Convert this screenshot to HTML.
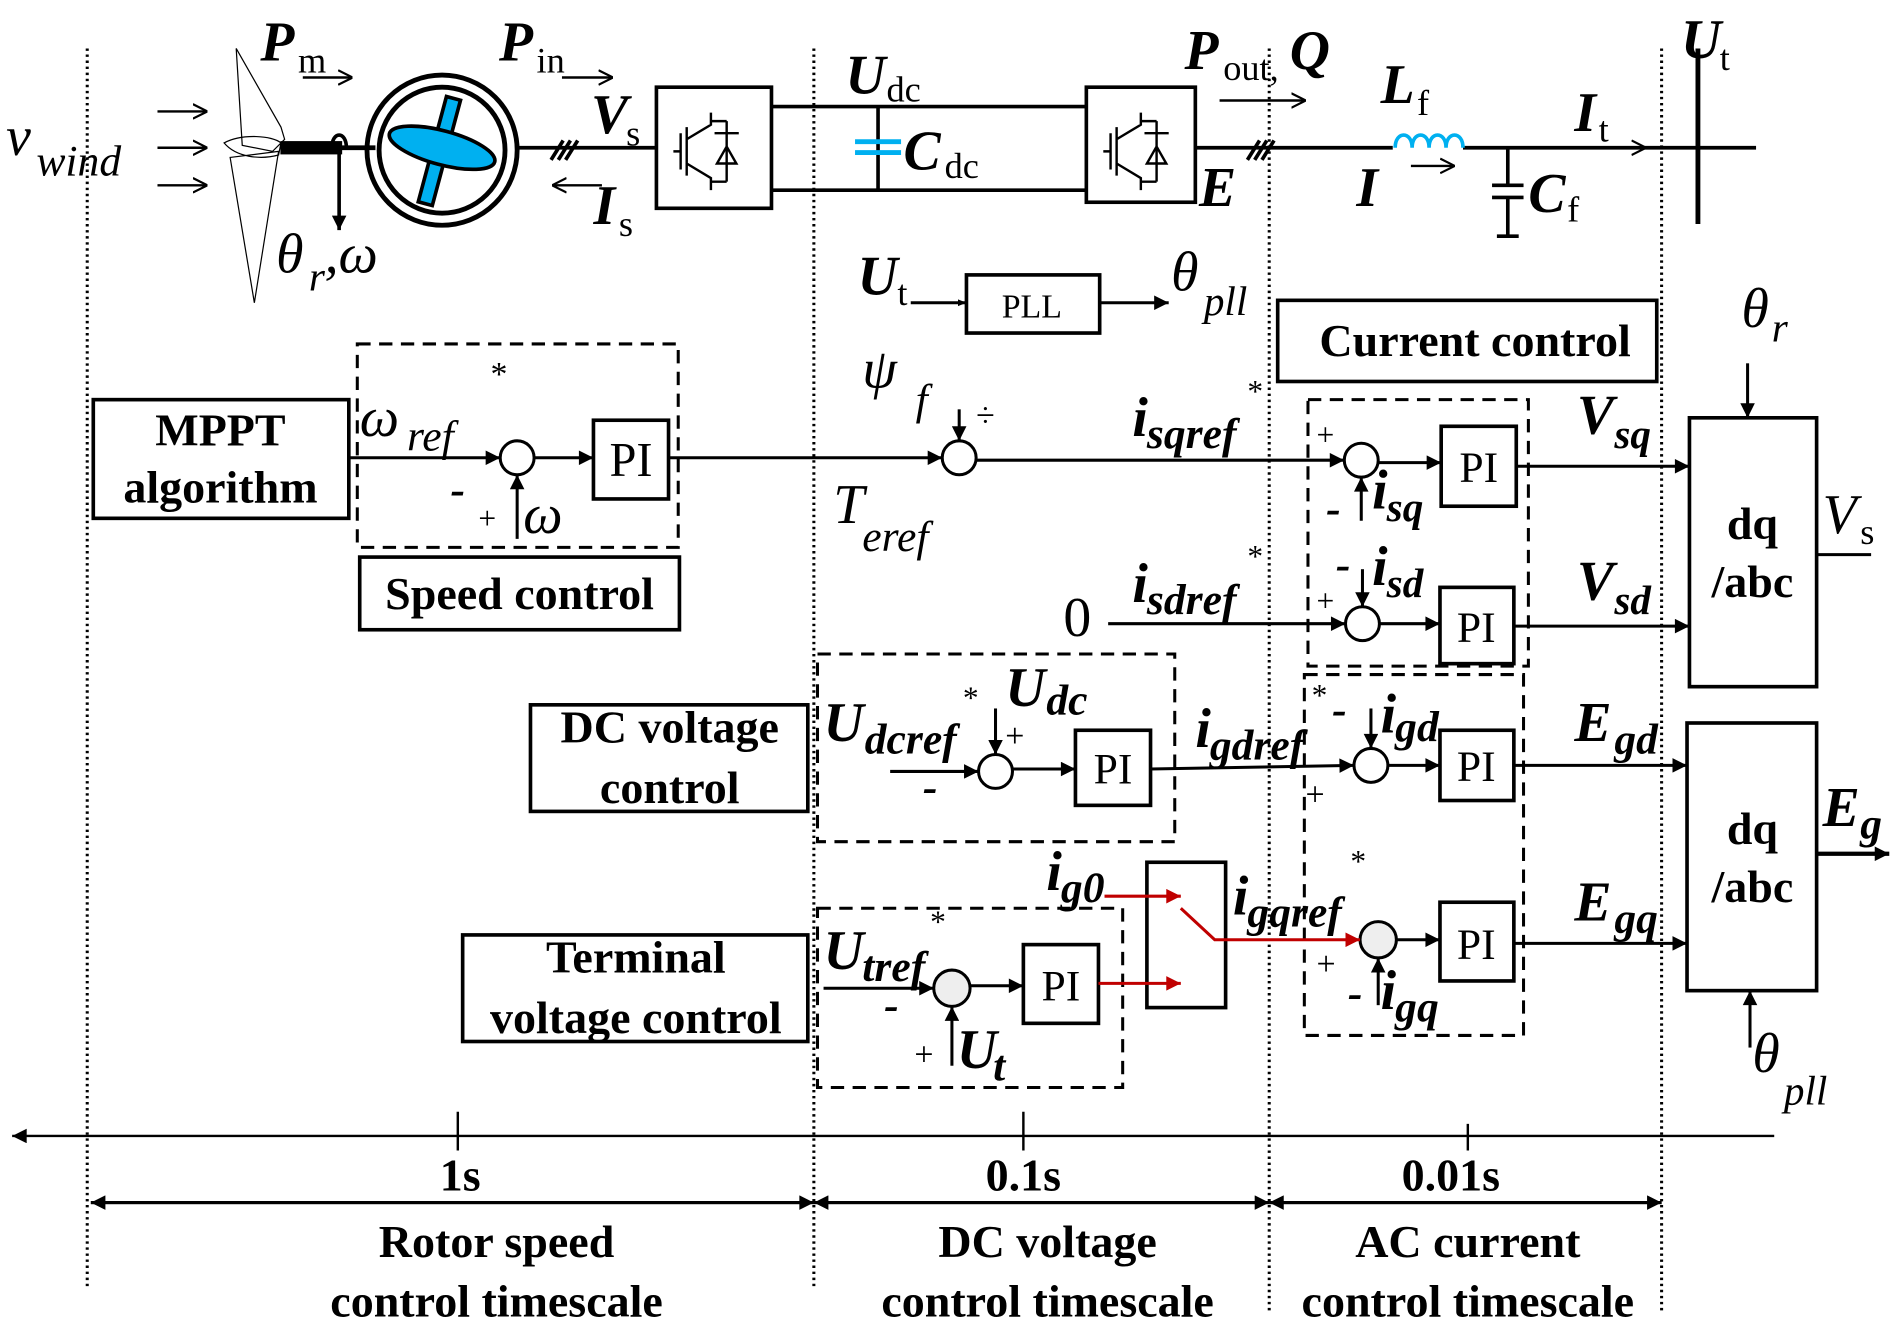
<!DOCTYPE html>
<html><head><meta charset="utf-8"><style>
html,body{margin:0;padding:0;background:#fff;}
svg{display:block;}
text{font-family:"Liberation Serif",serif;fill:#000;}
.bi{font-weight:bold;font-style:italic;}
.b{font-weight:bold;}
</style></head><body>
<svg width="1899" height="1337" viewBox="0 0 1568 1104" xmlns="http://www.w3.org/2000/svg">
<defs>
<marker id="a" viewBox="0 0 10 10" refX="10" refY="5" markerWidth="7" markerHeight="7" markerUnits="userSpaceOnUse" orient="auto"><path d="M0,1 L10,5 L0,9 z" fill="#000"/></marker>
<marker id="A" viewBox="0 0 10 10" refX="10" refY="5" markerWidth="16" markerHeight="12" markerUnits="userSpaceOnUse" orient="auto"><path d="M0,0 L10,5 L0,10 z" fill="#000"/></marker>
<marker id="r" viewBox="0 0 10 10" refX="10" refY="5" markerWidth="16" markerHeight="12" markerUnits="userSpaceOnUse" orient="auto"><path d="M0,0 L10,5 L0,10 z" fill="#c00000"/></marker>
<marker id="o" viewBox="0 0 10 10" refX="9" refY="5" markerWidth="12" markerHeight="14" markerUnits="userSpaceOnUse" orient="auto"><path d="M0,0 L10,5 L0,10" fill="none" stroke="#000" stroke-width="1.5"/></marker>
</defs>
<g stroke="#000" fill="none">
<g stroke-width="2.5" stroke-dasharray="2,3">
<line x1="72" y1="40" x2="72" y2="1065"/><line x1="672" y1="40" x2="672" y2="1065"/>
<line x1="1048" y1="40" x2="1048" y2="1085"/><line x1="1372" y1="40" x2="1372" y2="1085"/>
</g>
<g stroke-width="2"><line x1="130" y1="92" x2="170" y2="92" marker-end="url(#o)"/><line x1="130" y1="122" x2="170" y2="122" marker-end="url(#o)"/><line x1="130" y1="153" x2="170" y2="153" marker-end="url(#o)"/></g>
<path d="M195,40 L232,105 L235,115 L225,125 L200,120 Z M190,130 L230,125 L210,250 Z M185,118 C200,110 225,112 232,118 L230,128 C215,132 195,130 185,118Z" stroke-width="1"/>
<rect x="232" y="117" width="50" height="10" fill="#000"/>
<line x1="280" y1="122" x2="310" y2="122" stroke-width="4"/>
<path d="M274,122 C274,108 286,108 286,122" stroke-width="3"/>
<line x1="280" y1="122" x2="280" y2="190" stroke-width="3" marker-end="url(#A)"/>
<circle cx="365" cy="124" r="62" stroke-width="4"/><circle cx="365" cy="124" r="52" stroke-width="4"/>
<g fill="#00b0f0" stroke-width="3"><rect x="357" y="80" width="12" height="90" transform="rotate(15 364 124)"/><ellipse cx="365" cy="122" rx="45" ry="14" transform="rotate(15 365 122)"/></g>
<line x1="427" y1="122" x2="542" y2="122" stroke-width="3"/>
<g stroke-width="3"><line x1="455" y1="132" x2="465" y2="116"/><line x1="461" y1="132" x2="471" y2="116"/><line x1="467" y1="132" x2="477" y2="116"/></g>
<line x1="250" y1="64" x2="290" y2="64" stroke-width="2" marker-end="url(#o)"/>
<line x1="464" y1="64" x2="505" y2="64" stroke-width="2" marker-end="url(#o)"/>
<line x1="497" y1="153" x2="457" y2="153" stroke-width="2" marker-end="url(#o)"/>
<rect x="542" y="72" width="95" height="100" stroke-width="3"/>
<rect x="897" y="72" width="90" height="95" stroke-width="3"/>
<g stroke-width="2"><path d="M562,110 v30 M567,105 v40 M567,115 l20,-12 v-10 M567,135 l20,12 v10 M556,125 h6 M600,100 v50 M590,110 h20 M592,135 h16 l-8,-14 z M600,100 h-13 M600,150 h-13"/>
<path d="M917,110 v30 M922,105 v40 M922,115 l20,-12 v-10 M922,135 l20,12 v10 M911,125 h6 M955,100 v50 M945,110 h20 M947,135 h16 l-8,-14 z M955,100 h-13 M955,150 h-13"/></g>
<line x1="637" y1="88" x2="897" y2="88" stroke-width="3"/><line x1="637" y1="157" x2="897" y2="157" stroke-width="3"/>
<line x1="725" y1="88" x2="725" y2="157" stroke-width="3"/>
<line x1="706" y1="117" x2="744" y2="117" stroke="#00b0f0" stroke-width="4"/><line x1="706" y1="126" x2="744" y2="126" stroke="#00b0f0" stroke-width="4"/>
<line x1="987" y1="122" x2="1450" y2="122" stroke-width="3"/>
<g stroke-width="3"><line x1="1030" y1="132" x2="1040" y2="116"/><line x1="1036" y1="132" x2="1046" y2="116"/><line x1="1042" y1="132" x2="1052" y2="116"/></g>
<line x1="1007" y1="83" x2="1077" y2="83" stroke-width="2" marker-end="url(#o)"/>
<rect x="1150" y="112" width="58" height="14" fill="#fff" stroke="none"/>
<path d="M1152,122 c0,-14 14,-14 14,0 c0,-14 14,-14 14,0 c0,-14 14,-14 14,0 c0,-14 14,-14 14,0" stroke="#00b0f0" stroke-width="3"/>
<line x1="1165" y1="137" x2="1200" y2="137" stroke-width="2" marker-end="url(#o)"/>
<line x1="1300" y1="122" x2="1358" y2="122" stroke-width="2" marker-end="url(#o)"/>
<path d="M1245,122 V153 M1232,153 h26 M1232,163 h26 M1245,163 V195 M1236,195 h18" stroke-width="3"/>
<line x1="1402" y1="40" x2="1402" y2="185" stroke-width="4"/>
<rect x="798" y="227" width="110" height="48" stroke-width="3"/>
<line x1="752" y1="250" x2="798" y2="250" stroke-width="2.5" marker-end="url(#a)"/>
<line x1="908" y1="250" x2="965" y2="250" stroke-width="2.5" marker-end="url(#A)"/>
<rect x="1055" y="248" width="313" height="67" stroke-width="3"/>
<rect x="77" y="330" width="211" height="98" stroke-width="3"/>
<rect x="297" y="460" width="264" height="60" stroke-width="3"/>
<rect x="438" y="582" width="229" height="88" stroke-width="3"/>
<rect x="382" y="772" width="285" height="88" stroke-width="3"/>
<g stroke-width="2.5" stroke-dasharray="11,7">
<rect x="295" y="284" width="265" height="168"/>
<rect x="675" y="540" width="295" height="155"/>
<rect x="675" y="750" width="252" height="148"/>
<rect x="1080" y="330" width="182" height="220"/>
<rect x="1077" y="557" width="181" height="298"/>
</g>
<g stroke-width="3"><rect x="490" y="347" width="62" height="65"/><rect x="888" y="603" width="62" height="62"/><rect x="845" y="780" width="62" height="65"/>
<rect x="1190" y="352" width="62" height="66"/><rect x="1189" y="485" width="61" height="63"/><rect x="1189" y="603" width="61" height="58"/><rect x="1189" y="745" width="61" height="65"/>
<rect x="1395" y="345" width="105" height="222"/><rect x="1393" y="597" width="107" height="221"/>
<rect x="947" y="712" width="65" height="120"/></g>
<g stroke-width="2.5" fill="#fff"><circle cx="427" cy="378" r="14"/><circle cx="792" cy="378" r="14"/><circle cx="1124" cy="380" r="14"/><circle cx="1125" cy="515" r="14"/><circle cx="822" cy="637" r="14"/><circle cx="1132" cy="632" r="14"/><circle cx="786" cy="816" r="15" fill="#eee"/><circle cx="1138" cy="776" r="15" fill="#eee"/></g>
<g stroke-width="2.5">
<line x1="288" y1="378" x2="413" y2="378" marker-end="url(#A)"/>
<line x1="441" y1="378" x2="490" y2="378" marker-end="url(#A)"/>
<line x1="552" y1="378" x2="778" y2="378" marker-end="url(#A)"/>
<line x1="427" y1="445" x2="427" y2="392" marker-end="url(#A)"/>
<line x1="792" y1="338" x2="792" y2="364" marker-end="url(#A)"/>
<line x1="806" y1="380" x2="1110" y2="380" marker-end="url(#A)"/>
<line x1="1138" y1="382" x2="1190" y2="382" marker-end="url(#A)"/>
<line x1="1124" y1="430" x2="1124" y2="394" marker-end="url(#A)"/>
<line x1="1252" y1="385" x2="1395" y2="385" marker-end="url(#A)"/>
<line x1="915" y1="515" x2="1111" y2="515" marker-end="url(#A)"/>
<line x1="1125" y1="470" x2="1125" y2="501" marker-end="url(#A)"/>
<line x1="1139" y1="515" x2="1189" y2="515" marker-end="url(#A)"/>
<line x1="1250" y1="517" x2="1395" y2="517" marker-end="url(#A)"/>
<line x1="1443" y1="300" x2="1443" y2="345" marker-end="url(#A)"/>
<line x1="1500" y1="458" x2="1545" y2="458"/>
<line x1="1500" y1="705" x2="1560" y2="705" stroke-width="3.5" marker-end="url(#A)"/>
<line x1="1445" y1="865" x2="1445" y2="818" marker-end="url(#A)"/>
<line x1="735" y1="637" x2="808" y2="637" marker-end="url(#A)"/>
<line x1="822" y1="585" x2="822" y2="623" marker-end="url(#A)"/>
<line x1="836" y1="635" x2="888" y2="635" marker-end="url(#A)"/>
<line x1="950" y1="635" x2="1118" y2="632" marker-end="url(#A)"/>
<line x1="1132" y1="585" x2="1132" y2="618" marker-end="url(#A)"/>
<line x1="1146" y1="632" x2="1189" y2="632" marker-end="url(#A)"/>
<line x1="1250" y1="632" x2="1393" y2="632" marker-end="url(#A)"/>
<line x1="680" y1="816" x2="771" y2="816" marker-end="url(#A)"/>
<line x1="786" y1="880" x2="786" y2="831" marker-end="url(#A)"/>
<line x1="801" y1="814" x2="845" y2="814" marker-end="url(#A)"/>
<line x1="1153" y1="776" x2="1189" y2="776" marker-end="url(#A)"/>
<line x1="1138" y1="830" x2="1138" y2="791" marker-end="url(#A)"/>
<line x1="1250" y1="779" x2="1393" y2="779" marker-end="url(#A)"/>
</g>
<g stroke="#c00000" stroke-width="2.5">
<line x1="907" y1="812" x2="975" y2="812" marker-end="url(#r)"/>
<line x1="912" y1="740" x2="975" y2="740" marker-end="url(#r)"/>
<polyline points="975,750 1003,776 1123,776" marker-end="url(#r)" fill="none"/>
</g>
<line x1="1465" y1="938" x2="10" y2="938" stroke-width="2" marker-end="url(#A)"/>
<g stroke-width="2"><line x1="378" y1="918" x2="378" y2="950"/><line x1="845" y1="918" x2="845" y2="950"/><line x1="1212" y1="928" x2="1212" y2="950"/></g>
<g stroke-width="2.5">
<line x1="672" y1="993" x2="75" y2="993" marker-end="url(#A)"/><line x1="75" y1="993" x2="672" y2="993" marker-end="url(#A)"/>
<line x1="1048" y1="993" x2="672" y2="993" marker-end="url(#A)"/><line x1="672" y1="993" x2="1048" y2="993" marker-end="url(#A)"/>
<line x1="1372" y1="993" x2="1048" y2="993" marker-end="url(#A)"/><line x1="1048" y1="993" x2="1372" y2="993" marker-end="url(#A)"/>
</g>
</g>
<g font-size="46" class="bi">
<text x="5" y="128" font-weight="normal">v</text><text x="30" y="145" font-size="36" font-weight="normal">wind</text>
<text x="215" y="50">P</text><text x="246" y="60" font-size="30" font-weight="normal" font-style="normal">m</text>
<text x="412" y="50">P</text><text x="443" y="60" font-size="30" font-weight="normal" font-style="normal">in</text>
<text x="488" y="110">V</text><text x="517" y="120" font-size="30" font-weight="normal" font-style="normal">s</text>
<text x="490" y="185">I</text><text x="511" y="195" font-size="30" font-weight="normal" font-style="normal">s</text>
<text x="228" y="225" font-weight="normal">θ</text><text x="255" y="240" font-size="34" font-weight="normal">r</text><text x="268" y="225" font-weight="normal">,ω</text>
<text x="698" y="77">U</text><text x="732" y="84" font-size="30" font-weight="normal" font-style="normal">dc</text>
<text x="746" y="140">C</text><text x="780" y="147" font-size="30" font-weight="normal" font-style="normal">dc</text>
<text x="978" y="57">P</text><text x="1010" y="66" font-size="30" font-weight="normal" font-style="normal">out,</text><text x="1065" y="57">Q</text>
<text x="990" y="170">E</text>
<text x="1140" y="85">L</text><text x="1170" y="95" font-size="30" font-weight="normal" font-style="normal">f</text>
<text x="1120" y="170">I</text>
<text x="1262" y="175">C</text><text x="1294" y="183" font-size="30" font-weight="normal" font-style="normal">f</text>
<text x="1300" y="108">I</text><text x="1320" y="117" font-size="30" font-weight="normal" font-style="normal">t</text>
<text x="1388" y="48">U</text><text x="1420" y="58" font-size="30" font-weight="normal" font-style="normal">t</text>
<text x="708" y="243">U</text><text x="741" y="252" font-size="30" font-weight="normal" font-style="normal">t</text>
<text x="967" y="240" font-weight="normal">θ</text><text x="994" y="260" font-size="34" font-weight="normal">pll</text>
<text x="1438" y="270" font-weight="normal">θ</text><text x="1463" y="282" font-size="34" font-weight="normal">r</text>
<text x="1447" y="885" font-weight="normal">θ</text><text x="1473" y="912" font-size="34" font-weight="normal">pll</text>
<text x="297" y="360" font-weight="normal">ω</text><text x="336" y="372" font-size="36" font-weight="normal">ref</text>
<text x="405" y="318" font-size="28" font-weight="normal" font-style="normal">*</text>
<text x="372" y="416" font-size="36">-</text><text x="395" y="437" font-size="26" font-weight="normal" font-style="normal">+</text>
<text x="432" y="440" font-weight="normal">ω</text>
<text x="712" y="320" font-weight="normal">ψ</text><text x="756" y="342" font-size="36" font-weight="normal">f</text><text x="806" y="352" font-size="28" font-weight="normal" font-style="normal">÷</text>
<text x="688" y="432" font-weight="normal">T</text><text x="712" y="455" font-size="36" font-weight="normal">eref</text>
<text x="935" y="360">i</text><text x="947" y="370" font-size="36">sqref</text><text x="1030" y="332" font-size="26" font-weight="normal" font-style="normal">*</text>
<text x="935" y="497">i</text><text x="947" y="507" font-size="36">sdref</text><text x="1030" y="468" font-size="26" font-weight="normal" font-style="normal">*</text>
<text x="878" y="525" font-weight="normal" font-style="normal">0</text>
<text x="1087" y="368" font-size="26" font-weight="normal" font-style="normal">+</text><text x="1095" y="432" font-size="36">-</text>
<text x="1133" y="420">i</text><text x="1145" y="430" font-size="34">sq</text>
<text x="1103" y="478" font-size="36">-</text><text x="1133" y="483">i</text><text x="1145" y="493" font-size="34">sd</text>
<text x="1087" y="505" font-size="26" font-weight="normal" font-style="normal">+</text>
<text x="1302" y="358">V</text><text x="1333" y="370" font-size="34">sq</text>
<text x="1302" y="495">V</text><text x="1333" y="507" font-size="34">sd</text>
<text x="1505" y="440" font-weight="normal">V</text><text x="1536" y="449" font-size="30" font-weight="normal" font-style="normal">s</text>
<text x="680" y="612">U</text><text x="714" y="622" font-size="36">dcref</text><text x="795" y="585" font-size="26" font-weight="normal" font-style="normal">*</text>
<text x="830" y="583">U</text><text x="864" y="590" font-size="36">dc</text><text x="830" y="617" font-size="28" font-weight="normal" font-style="normal">+</text>
<text x="762" y="662" font-size="36">-</text>
<text x="987" y="617">i</text><text x="999" y="627" font-size="36">gdref</text>
<text x="1083" y="583" font-size="26" font-weight="normal" font-style="normal">*</text><text x="1100" y="598" font-size="36">-</text>
<text x="1140" y="605">i</text><text x="1152" y="612" font-size="36">gd</text>
<text x="1078" y="665" font-size="28" font-weight="normal" font-style="normal">+</text>
<text x="1300" y="612">E</text><text x="1333" y="622" font-size="36">gd</text>
<text x="1505" y="682">E</text><text x="1536" y="692" font-size="36">g</text>
<text x="680" y="800">U</text><text x="712" y="810" font-size="36">tref</text><text x="768" y="770" font-size="26" font-weight="normal" font-style="normal">*</text>
<text x="730" y="842" font-size="36">-</text><text x="755" y="880" font-size="28" font-weight="normal" font-style="normal">+</text>
<text x="790" y="882">U</text><text x="820" y="892" font-size="36">t</text>
<text x="864" y="735">i</text><text x="876" y="745" font-size="36">g0</text>
<text x="1018" y="755">i</text><text x="1030" y="765" font-size="36">gqref</text><text x="1115" y="720" font-size="26" font-weight="normal" font-style="normal">*</text>
<text x="1087" y="805" font-size="28" font-weight="normal" font-style="normal">+</text><text x="1113" y="832" font-size="36">-</text>
<text x="1140" y="833">i</text><text x="1152" y="843" font-size="36">gq</text>
<text x="1300" y="760">E</text><text x="1333" y="770" font-size="36">gq</text>
</g>
<g font-size="36" text-anchor="middle">
<text x="852" y="262" font-size="28">PLL</text>
<text x="521" y="393" font-size="40">PI</text><text x="919" y="647">PI</text><text x="876" y="826">PI</text>
<text x="1221" y="398">PI</text><text x="1219" y="530">PI</text><text x="1219" y="645">PI</text><text x="1219" y="792">PI</text>
</g>
<g class="b" font-size="38" text-anchor="middle">
<text x="182" y="368">MPPT</text><text x="182" y="415">algorithm</text>
<text x="429" y="503">Speed control</text>
<text x="1218" y="294">Current control</text>
<text x="553" y="613">DC voltage</text><text x="553" y="663">control</text>
<text x="525" y="803">Terminal</text><text x="525" y="853">voltage control</text>
<text x="1447" y="445">dq</text><text x="1447" y="493">/abc</text>
<text x="1447" y="697">dq</text><text x="1447" y="745">/abc</text>
<text x="380" y="983">1s</text><text x="845" y="983">0.1s</text><text x="1198" y="983">0.01s</text>
<text x="410" y="1038">Rotor speed</text><text x="410" y="1087">control timescale</text>
<text x="865" y="1038">DC voltage</text><text x="865" y="1087">control timescale</text>
<text x="1212" y="1038">AC current</text><text x="1212" y="1087">control timescale</text>
</g>
</svg>
</body></html>
